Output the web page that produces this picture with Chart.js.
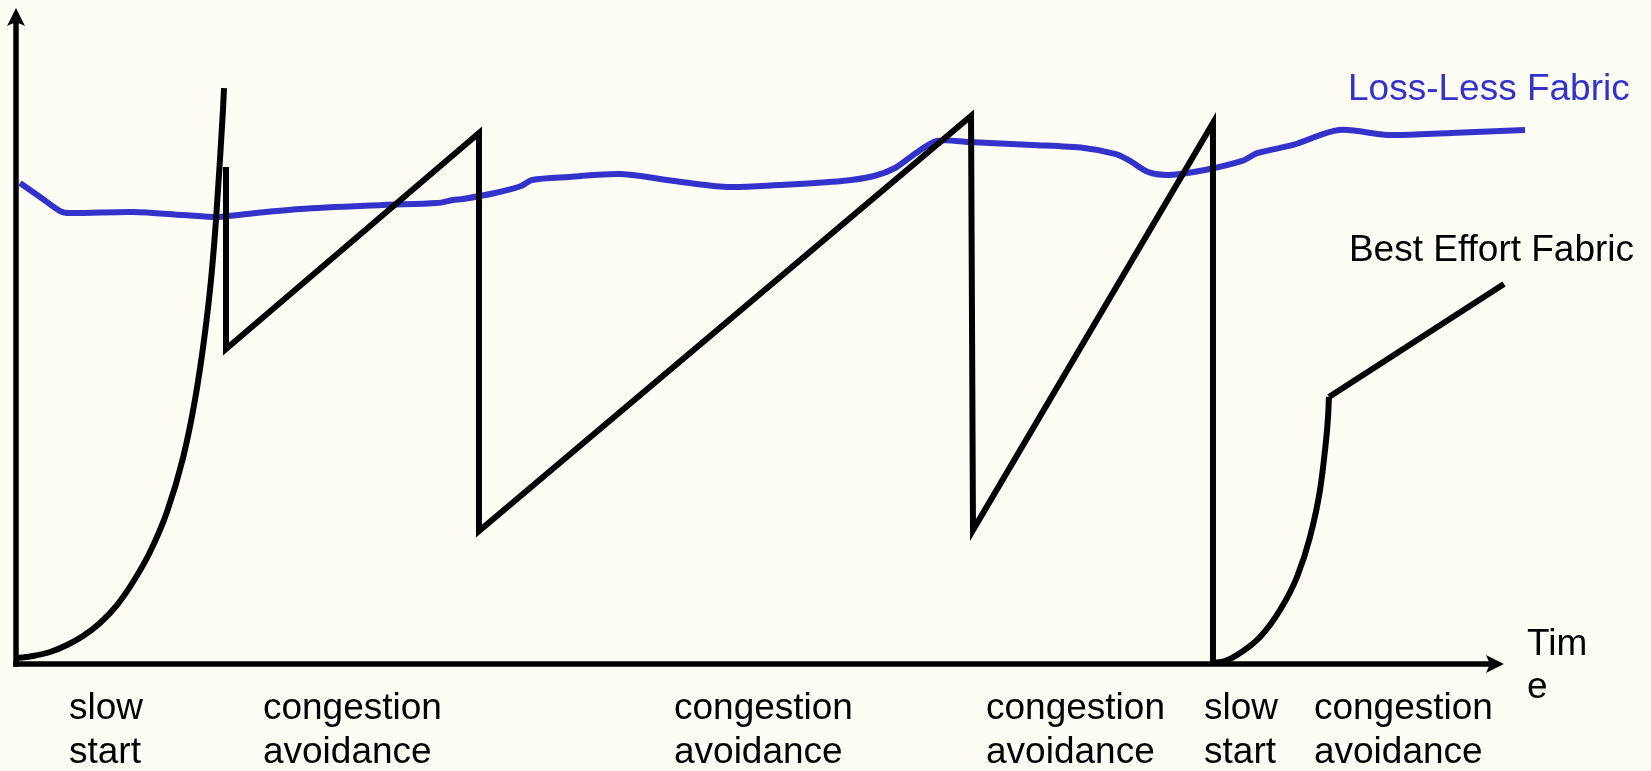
<!DOCTYPE html>
<html>
<head>
<meta charset="utf-8">
<script src="https://cdn.jsdelivr.net/npm/chart.js@4.4.1/dist/chart.umd.min.js"></script>
<style>
  html, body { margin: 0; padding: 0; background: #fdfdf6; }
  #wrap { width: 1651px; height: 771px; position: relative; }
</style>
</head>
<body>
<div id="wrap"><canvas id="myChart"></canvas></div>
<script>
//----- data: time runs 0..100 along the x axis, window size 0..100 up the y axis

// best effort fabric: first slow start
let ss1Time = [0.07, 1.12, 2.25, 3.37, 4.43, 5.55, 6.67, 7.73, 8.85, 9.97, 11.03, 11.82, 12.42, 12.88, 13.21, 13.47, 13.67, 13.74];
let ss1Win = [0.91, 1.22, 1.83, 2.9, 4.27, 6.25, 8.99, 12.5, 17.07, 23.17, 31.4, 40.24, 49.39, 58.54, 67.68, 76.83, 84.45, 87.8];

// best effort fabric: congestion avoidance sawtooth
let sawTime = [13.87, 13.87, 30.58, 30.58, 63.08, 63.21, 79.06, 79.06];
let sawWin = [75.76, 48.02, 80.95, 20.27, 83.54, 20.43, 82.47, 0.15];

// best effort fabric: second slow start
let ss2Time = [79.06, 79.85, 80.65, 82.17, 83.49, 84.61, 85.47, 86.13, 86.46, 86.66, 86.72];
let ss2Win = [0.15, 0.46, 1.37, 4.12, 8.23, 13.26, 19.36, 26.52, 32.62, 37.65, 40.7];

// best effort fabric: last congestion avoidance
let tailTime = [86.72, 98.28];
let tailWin = [40.7, 57.93];

// loss-less fabric
let lossLessTime = [0.26, 1.59, 2.91, 3.57, 7.73, 11.03, 13.28, 13.94, 18.76, 24.24, 27.81, 28.86, 29.52, 31.64, 33.36, 34.08,
  36.53, 39.96, 43.46, 46.96, 50.4, 54.56, 56.67, 58.06, 59.45, 60.83, 62.95, 67.11, 70.54, 72.66, 73.58, 74.77,
  76.16, 78.53, 80.98, 82.03, 84.35, 87.38, 90.62, 94.78, 99.67];
let lossLessWin = [73.32, 71.19, 69.05, 68.75, 68.9, 68.45, 68.14, 68.29, 69.36, 69.97, 70.27, 70.73, 70.88, 71.8, 72.87, 73.78,
  74.24, 74.7, 73.63, 72.71, 73.02, 73.63, 74.39, 75.61, 77.9, 79.73, 79.57, 79.12, 78.66, 77.74, 76.68, 75.0,
  74.54, 75.3, 76.68, 77.9, 79.12, 81.4, 80.64, 80.95, 81.4];

// phase names under the time axis, and where each one starts
let phaseLabels = [["slow", "start"], ["congestion", "avoidance"], ["congestion", "avoidance"],
  ["congestion", "avoidance"], ["slow", "start"], ["congestion", "avoidance"]];
let phaseStart = [3.5, 16.31, 43.46, 64.07, 78.47, 85.73];

let seriesNames = ["Loss-Less Fabric", "Best Effort Fabric"];
let seriesLabelTime = [87.98, 88.04];
let seriesLabelWin = [85.98, 61.43];

let axisTitle = ["Tim", "e"];
let axisTitleTime = 99.8;
let timeAxisEnd = 98.28;

let blue = "rgb(51, 51, 204)";
let black = "#000000";
let bgColor = "#fdfdf6";
let font = '37px "Liberation Sans", Arial, sans-serif';

function pts(xs, ys) {
  return xs.map((t, i) => ({ x: t, y: ys[i] }));
}

const extras = {
  id: "extras",
  beforeDraw(chart) {
    let ctx = chart.ctx;
    ctx.save();
    ctx.fillStyle = bgColor;
    ctx.fillRect(0, 0, chart.width, chart.height);
    ctx.restore();
  },
  beforeDatasetsDraw(chart) {
    let ctx = chart.ctx;
    let xs = chart.scales.x, ys = chart.scales.y;
    let x0 = xs.getPixelForValue(0), y0 = ys.getPixelForValue(0);
    let xEnd = xs.getPixelForValue(timeAxisEnd), yEnd = ys.getPixelForValue(100);
    ctx.save();
    ctx.strokeStyle = black;
    ctx.fillStyle = black;
    ctx.lineWidth = 5.5;
    ctx.beginPath();
    ctx.moveTo(x0, y0 + 2.75);
    ctx.lineTo(x0, yEnd + 14);
    ctx.stroke();
    ctx.beginPath();
    ctx.moveTo(x0 - 2.75, y0);
    ctx.lineTo(xEnd - 14, y0);
    ctx.stroke();
    // arrow heads
    ctx.beginPath();
    ctx.moveTo(x0, yEnd);
    ctx.lineTo(x0 - 9, yEnd + 18);
    ctx.lineTo(x0, yEnd + 14);
    ctx.lineTo(x0 + 9, yEnd + 18);
    ctx.closePath();
    ctx.fill();
    ctx.beginPath();
    ctx.moveTo(xEnd, y0);
    ctx.lineTo(xEnd - 18, y0 - 9);
    ctx.lineTo(xEnd - 14, y0);
    ctx.lineTo(xEnd - 18, y0 + 9);
    ctx.closePath();
    ctx.fill();
    ctx.restore();
  },
  afterDraw(chart) {
    let ctx = chart.ctx;
    let xs = chart.scales.x, ys = chart.scales.y;
    let y0 = ys.getPixelForValue(0);
    ctx.save();
    ctx.font = font;
    ctx.textAlign = "left";
    ctx.textBaseline = "alphabetic";
    ctx.fillStyle = black;
    for (let i = 0; i < phaseLabels.length; i++) {
      let px = xs.getPixelForValue(phaseStart[i]);
      ctx.fillText(phaseLabels[i][0], px, y0 + 55);
      ctx.fillText(phaseLabels[i][1], px, y0 + 99);
    }
    let tx = xs.getPixelForValue(axisTitleTime);
    ctx.fillText(axisTitle[0], tx, y0 - 9);
    ctx.fillText(axisTitle[1], tx, y0 + 34);
    let colors = [blue, black];
    for (let i = 0; i < seriesNames.length; i++) {
      ctx.fillStyle = colors[i];
      ctx.fillText(seriesNames[i], xs.getPixelForValue(seriesLabelTime[i]), ys.getPixelForValue(seriesLabelWin[i]));
    }
    ctx.restore();
  }
};

let ctx = document.getElementById("myChart").getContext("2d");
let chart = new Chart(ctx, {
  type: "line",
  data: {
    datasets: [
      { label: "Best Effort Fabric", data: pts(ss1Time, ss1Win), borderColor: black, borderWidth: 6,
        cubicInterpolationMode: "monotone", pointRadius: 0, clip: false },
      { label: "Best Effort Fabric", data: pts(sawTime, sawWin), borderColor: black, borderWidth: 6,
        tension: 0, pointRadius: 0, clip: false },
      { label: "Best Effort Fabric", data: pts(ss2Time, ss2Win), borderColor: black, borderWidth: 6,
        cubicInterpolationMode: "monotone", pointRadius: 0, clip: false },
      { label: "Best Effort Fabric", data: pts(tailTime, tailWin), borderColor: black, borderWidth: 6,
        tension: 0, pointRadius: 0, clip: false },
      { label: "Loss-Less Fabric", data: pts(lossLessTime, lossLessWin), borderColor: blue, borderWidth: 6,
        tension: 0.3, pointRadius: 0, clip: false }
    ]
  },
  options: {
    responsive: true,
    maintainAspectRatio: false,
    animation: false,
    layout: { padding: { left: 16, right: 121, top: 8, bottom: 107 } },
    plugins: { legend: { display: false }, tooltip: { enabled: false } },
    scales: {
      x: { type: "linear", min: 0, max: 100, display: false },
      y: { type: "linear", min: 0, max: 100, display: false }
    }
  },
  plugins: [extras]
});
</script>
</body>
</html>
